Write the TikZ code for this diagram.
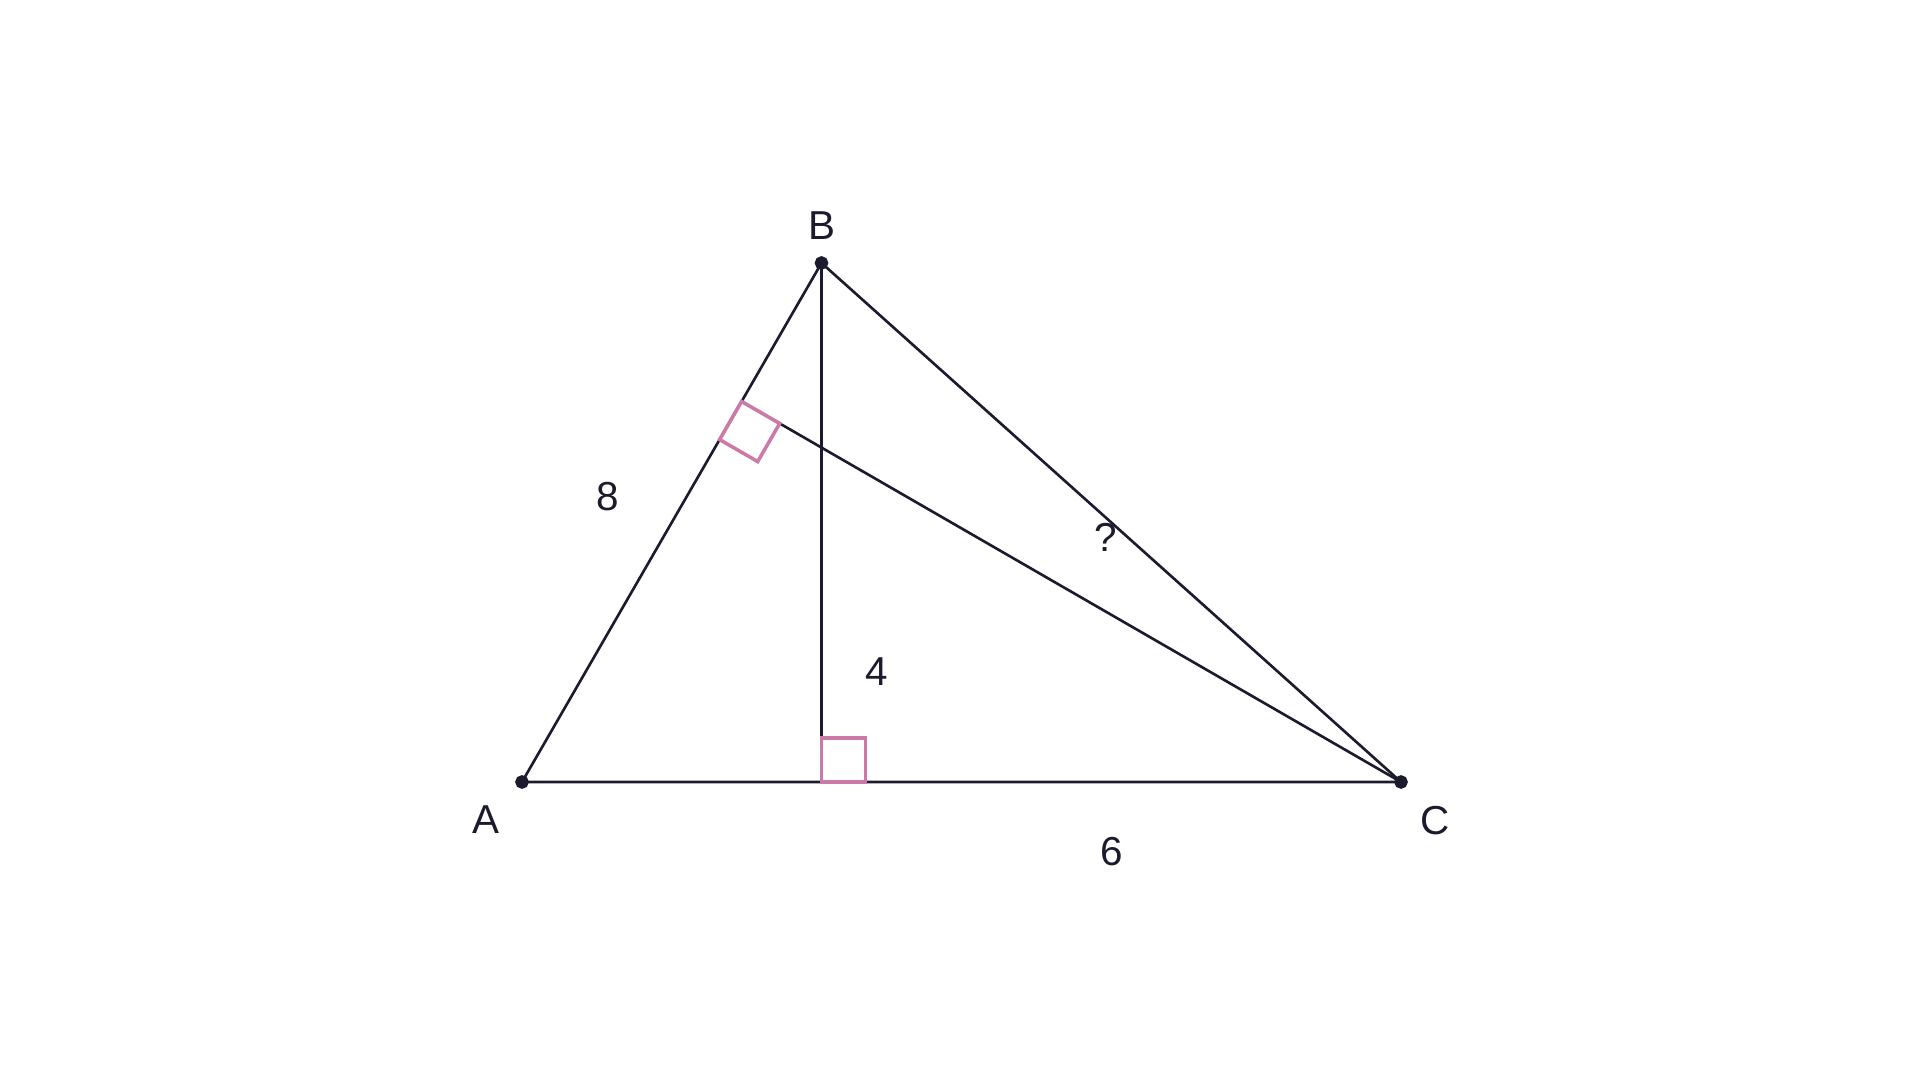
\documentclass[tikz,border=0pt]{standalone}
\usepackage{fontspec}
\setmainfont{Liberation Sans}
\usepackage{tikz}
\usetikzlibrary{calc}
\definecolor{ink}{HTML}{1C1B2E}
\definecolor{anglepink}{HTML}{CC79A7}

\begin{document}
\begin{tikzpicture}[line width=0.75pt, color=ink, font=\fontsize{11.5}{13}\selectfont]
    \useasboundingbox (0, 0) rectangle (19.2, 10.8);

    % vertices and feet of the altitudes
    \coordinate (A) at (5.22, 2.98);
    \coordinate (B) at (8.215, 8.17);
    \coordinate (C) at (14.01, 2.98);
    \coordinate (D) at (8.215, 2.98);
    \coordinate (E) at ($(A)!(C)!(B)$);

    % draw triangle and altitudes
    \draw (A) -- (B) -- (C) -- (A);
    \draw (B) -- (D);
    \draw (C) -- (E);

    % draw right angle marks
    \coordinate (Ea) at ($(E)!0.44cm!(A)$);
    \coordinate (Ec) at ($(E)!0.44cm!(C)$);
    \draw[color=anglepink, line width=1pt] (E) -- (Ea) -- ($(Ea)+(Ec)-(E)$) -- (Ec) -- cycle;
    \draw[color=anglepink, line width=1pt] (D) rectangle ++(0.44, 0.44);

    % draw vertex dots
    \filldraw (A) circle (0.055);
    \filldraw (B) circle (0.055);
    \filldraw (C) circle (0.055);

    % vertex labels
    \node (labelA) at (4.86, 2.60) {A};
    \node (labelB) at (8.217, 8.54) {B};
    \node (labelC) at (14.35, 2.59) {C};

    % length labels
    \node (lenAB) at (6.08, 5.83) {8};
    \node (lenBD) at (8.77, 4.08) {4};
    \node (lenDC) at (11.12, 2.28) {6};
    \node (lenBC) at (11.06, 5.43) {?};

\end{tikzpicture}
\end{document}
